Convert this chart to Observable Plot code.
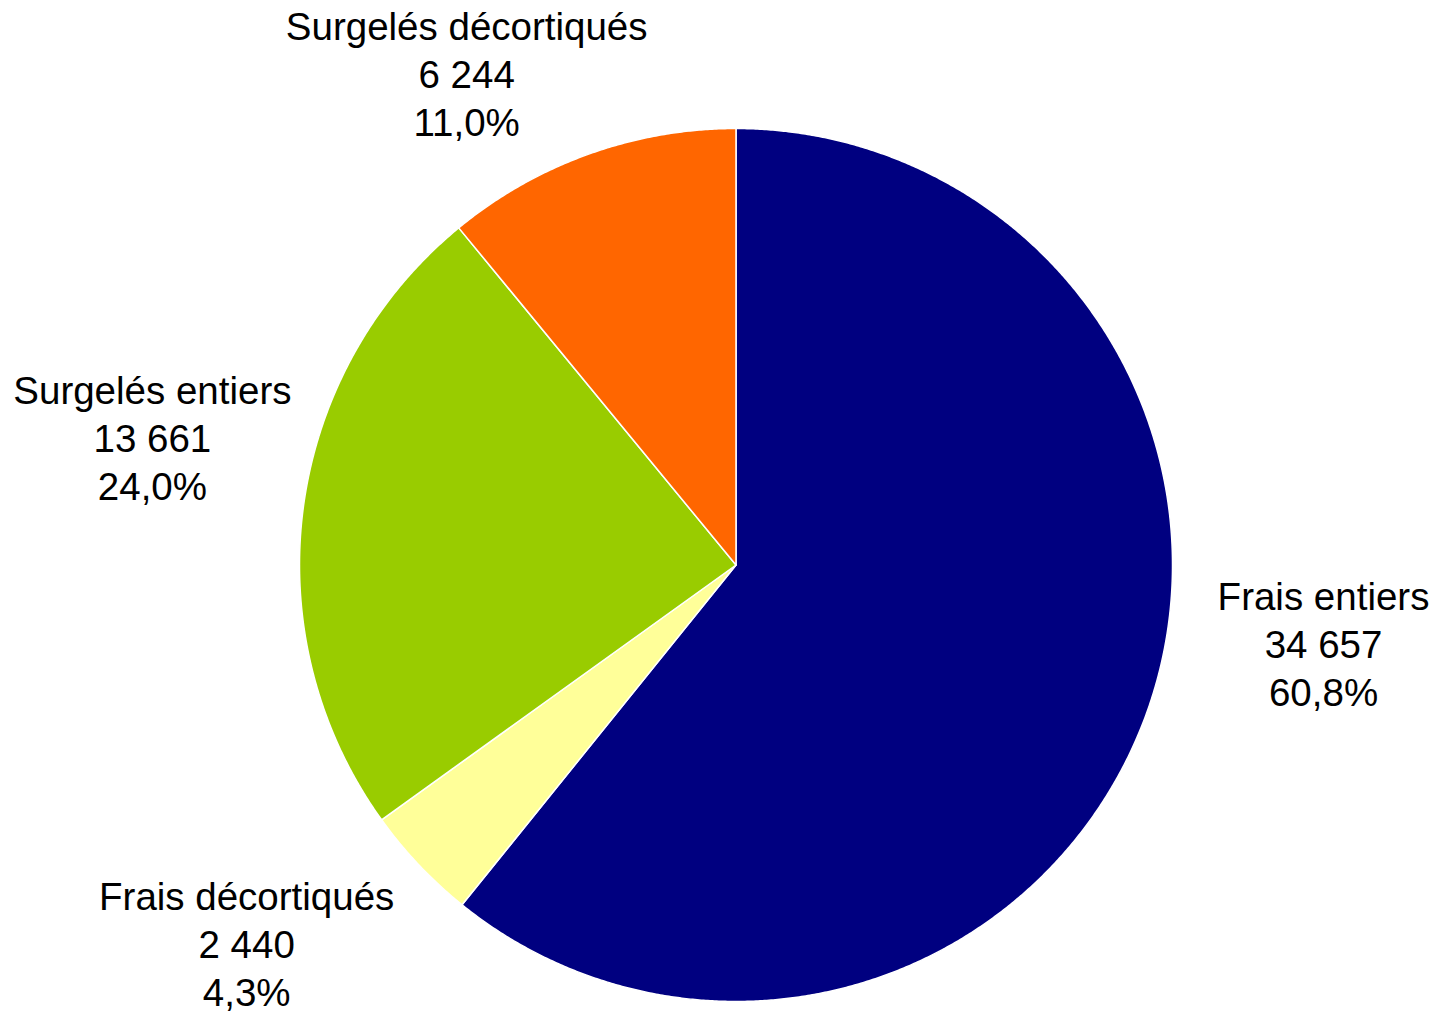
<!DOCTYPE html>
<html>
<head>
<meta charset="utf-8">
<script src="https://cdn.jsdelivr.net/npm/d3@7"></script>
<script src="https://cdn.jsdelivr.net/npm/@observablehq/plot@0.6"></script>
<style>
  html, body { margin: 0; padding: 0; background: #ffffff; }
  #chart svg { display: block; }
</style>
</head>
<body>
<div id="chart"></div>
<script>
// ---- Data ----
const categories = ["Frais entiers", "Frais décortiqués", "Surgelés entiers", "Surgelés décortiqués"];
const values = [34657, 2440, 13661, 6244];

// ---- Styles / layout ----
const colors = ["#000080", "#FFFF99", "#99CC00", "#FF6600"];
// label placement in units of pie radius (x right, y down)
const labelPos = [
  [1.346, 0.178],
  [-1.121, 0.866],
  [-1.337, -0.293],
  [-0.617, -1.127]
];

const total = d3.sum(values);
const fr = d3.formatLocale({decimal: ",", thousands: "\u00a0", grouping: [3], currency: ["", " €"]});
const fmtInt = fr.format(",d");
const fmtPct = fr.format(".1f");

// slice angles (clockwise from 12 o'clock)
let acc = 0;
const slices = categories.map((c, i) => {
  const a0 = acc / total * 2 * Math.PI;
  acc += values[i];
  const a1 = acc / total * 2 * Math.PI;
  const n = Math.max(2, Math.ceil((a1 - a0) / 0.005));
  const pts = [{x: 0, y: 0}];
  for (let k = 0; k <= n; k++) {
    const a = a0 + (a1 - a0) * k / n;
    pts.push({x: Math.sin(a), y: -Math.cos(a)});
  }
  pts.push({x: 0, y: 0});
  return {name: c, color: colors[i], pts};
});

const labels = categories.map((c, i) => ({
  x: labelPos[i][0],
  y: labelPos[i][1],
  text: `${c}\n${fmtInt(values[i])}\n${fmtPct(values[i] / total * 100)}%`
}));

const chart = Plot.plot({
  width: 1429,
  height: 1011,
  margin: 0,
  style: {background: "#ffffff", fontFamily: "'Liberation Sans', Arial, sans-serif"},
  x: {domain: [-1, 1], range: [299, 1172], axis: null},
  y: {domain: [-1, 1], range: [128, 1001], axis: null},
  marks: [
    ...slices.map(s => Plot.line(s.pts, {
      x: "x", y: "y", fill: s.color, stroke: "#ffffff", strokeWidth: 1.5, strokeLinejoin: "round"
    })),
    Plot.text(labels, {
      x: "x", y: "y", text: "text",
      fontSize: 38.5, lineHeight: 1.247, fill: "#000000",
      textAnchor: "middle", lineAnchor: "middle"
    })
  ]
});
document.getElementById("chart").appendChild(chart);
</script>
</body>
</html>
